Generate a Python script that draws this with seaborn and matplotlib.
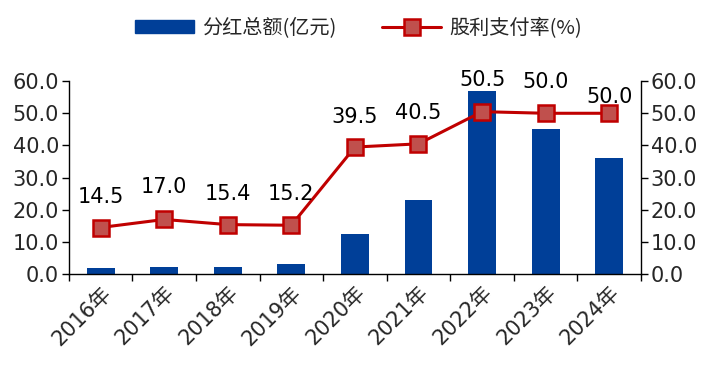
import numpy as np
import pandas as pd
import matplotlib
matplotlib.use("Agg")
import matplotlib.pyplot as plt
import seaborn as sns
from matplotlib.patches import Patch
from matplotlib.lines import Line2D

years = ["2016年", "2017年", "2018年", "2019年", "2020年", "2021年", "2022年", "2023年", "2024年"]
dividends = [1.9, 2.2, 2.2, 3.1, 12.4, 23.0, 56.8, 45.2, 36.2]
payout = [14.5, 17.0, 15.4, 15.2, 39.5, 40.5, 50.5, 50.0, 50.0]
bar_label = "分红总额(亿元)"
line_label = "股利支付率(%)"
label_offsets = [31, 32, 31, 31, 30, 31, 32, 31, 16]  # px above marker

sns.set_theme(style="white")
plt.rcParams['font.family'] = ['DejaVu Sans', 'Noto Sans CJK SC']

BAR = "#003F98"
LINE = "#C00000"
FILL = "#C0504D"
FS = 15

fig = plt.figure(figsize=(7.17, 3.72), dpi=100)
ax = fig.add_axes([0.096, 0.263, 0.798, 0.519])

df = pd.DataFrame({"year": years, "div": dividends, "pay": payout})
sns.barplot(data=df, x="year", y="div", color=BAR, width=0.44, ax=ax, saturation=1)
for p in ax.patches:
    p.set_edgecolor(BAR)
    p.set_linewidth(0)

ax2 = ax.twinx()
xs = np.arange(len(years))
sns.lineplot(x=xs, y=payout, ax=ax2, color=LINE, linewidth=2.2, marker="s",
             markersize=11, markerfacecolor=FILL, markeredgecolor=LINE, markeredgewidth=1.8)

for xi, v, off in zip(xs, payout, label_offsets):
    ax2.annotate(f"{v:.1f}", (xi, v), xytext=(0, off), textcoords="offset pixels",
                 ha="center", va="center", fontsize=FS, color="black")

for a in (ax, ax2):
    a.set_ylim(0, 60)
    a.set_yticks(np.arange(0, 61, 10))
    a.set_yticklabels([f"{t:.1f}" for t in np.arange(0, 61, 10)], fontsize=FS)
    a.set_xlim(-0.5, len(years) - 0.5)
    a.set_ylabel("")
    a.set_xlabel("")
    a.grid(False)
    for s in a.spines.values():
        s.set_color("black")
        s.set_linewidth(1)
    a.spines["top"].set_visible(False)

ax.spines["right"].set_visible(False)
ax2.spines["left"].set_visible(False)
ax2.spines["bottom"].set_visible(False)

ax.tick_params(axis="y", direction="out", length=5, width=1, color="black", left=True, pad=2)
ax2.tick_params(axis="y", direction="out", length=5, width=1, color="black", right=True, pad=2)

ax.set_xticks(xs)
ax.set_xticklabels(years, rotation=45, ha="right", rotation_mode="anchor", fontsize=FS)
ax.set_xticks(np.arange(-0.5, len(years), 1), minor=True)
ax.tick_params(axis="x", which="major", length=0, pad=6)
ax.tick_params(axis="x", which="minor", direction="out", length=5, width=1, color="black", bottom=True)
ax.set_zorder(0)
ax2.set_zorder(1)

handles = [Patch(facecolor=BAR, edgecolor=BAR),
           Line2D([0], [0], color=LINE, linewidth=2.2, marker="s", markersize=11,
                  markerfacecolor=FILL, markeredgecolor=LINE, markeredgewidth=1.8)]
fig.legend(handles, [bar_label, line_label], loc="center", bbox_to_anchor=(0.5, 0.925),
           ncol=2, frameon=False, handlelength=2.9, handleheight=0.65,
           columnspacing=2.3, handletextpad=0.4, prop={"family": ["Noto Sans CJK SC"], "size": 14.5})

fig.savefig("out.png", dpi=100)
